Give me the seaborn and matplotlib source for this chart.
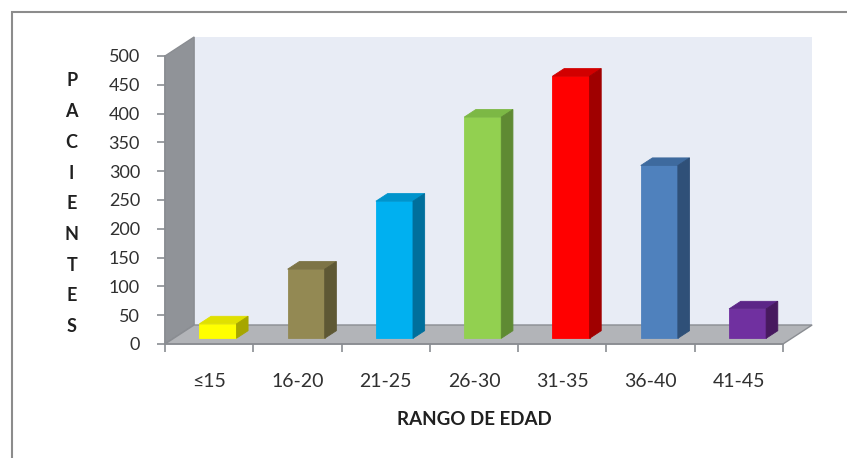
import matplotlib
matplotlib.use('Agg')
import matplotlib.pyplot as plt
import pandas as pd
import seaborn as sns
from matplotlib.patches import Polygon, Rectangle


# age ranges and patient counts
AGE_RANGES = ['≤15', '16-20', '21-25', '26-30', '31-35', '36-40', '41-45']
PATIENTS = [25, 120, 238, 384, 455, 300, 51]

# front / top / side shades for each bar
FRONT = ['#ffff00', '#938953', '#00b0f0', '#92d050', '#ff0000', '#4f81bd', '#7030a0']
TOP = ['#e0e000', '#7d7446', '#0094cc', '#7cb845', '#d20000', '#3e6a9e', '#5c2687']
SIDE = ['#a6a600', '#5e5834', '#006f9c', '#5f8a33', '#a00000', '#2f5078', '#47195f']

# depth of the 3d box in data units (x categories, y patients)
DX = 0.33
DY = 33


def main():
    sns.set_theme(style='white')
    plt.rcParams['font.family'] = ['Lato', 'DejaVu Sans']

    df = pd.DataFrame({'Edad': AGE_RANGES, 'Pacientes': PATIENTS})

    fig = plt.figure(figsize=(8.47, 4.58), dpi=100)
    ax = fig.add_axes([165 / 847, 114 / 458, 618 / 847, 288 / 458])
    ax.set_facecolor('none')

    sns.barplot(
        data=df, x='Edad', y='Pacientes', hue='Edad',
        palette=FRONT, width=0.42, legend=False, ax=ax,
        saturation=1, zorder=3
    )
    bars = list(ax.patches)
    ax.set_xlim(-0.5, len(AGE_RANGES) - 0.5)
    ax.set_ylim(0, 500)
    x0, x1 = ax.get_xlim()

    # walls and floor
    wall = Rectangle((x0 + DX, DY), x1 - x0, 500, facecolor='#e8ecf5',
                     edgecolor='none', zorder=0.1, clip_on=False)
    side = Polygon([(x0, 0), (x0, 500), (x0 + DX, 500 + DY), (x0 + DX, DY)],
                   closed=True, facecolor='#909398', edgecolor='#8a8d92',
                   zorder=0.2, clip_on=False)
    floor = Polygon([(x0, 0), (x1, 0), (x1 + DX, DY), (x0 + DX, DY)],
                    closed=True, facecolor='#b2b4b8', edgecolor='#8a8d92',
                    lw=1, zorder=0.3, clip_on=False)
    for p in (wall, side, floor):
        ax.add_patch(p)

    # turn flat bars into boxes
    bdx, bdy = 0.4 * DX, 0.4 * DY
    for i, bar in enumerate(bars):
        bar.set_x(bar.get_x() + 0.3 * DX)
        bar.set_y(0.3 * DY)
        bar.set_edgecolor(FRONT[i])
        bar.set_linewidth(0.6)
        left = bar.get_x()
        right = left + bar.get_width()
        base = bar.get_y()
        top = base + bar.get_height()
        ax.add_patch(Polygon(
            [(left, top), (right, top), (right + bdx, top + bdy), (left + bdx, top + bdy)],
            closed=True, facecolor=TOP[i], edgecolor=TOP[i], lw=0.6,
            zorder=3, clip_on=False))
        ax.add_patch(Polygon(
            [(right, base), (right, top), (right + bdx, top + bdy), (right + bdx, base + bdy)],
            closed=True, facecolor=SIDE[i], edgecolor=SIDE[i], lw=0.6,
            zorder=3, clip_on=False))

    for s in ('top', 'right'):
        ax.spines[s].set_visible(False)
    for s in ('left', 'bottom'):
        ax.spines[s].set_color('#8a8d92')
        ax.spines[s].set_linewidth(1.2)

    ax.set_yticks(range(0, 501, 50))
    ax.tick_params(axis='y', left=True, length=6, width=1.2, color='#8a8d92',
                   labelsize=13, labelcolor='#303030', pad=12)
    ax.set_xticks(range(len(AGE_RANGES)))
    ax.set_xticklabels(AGE_RANGES)
    ax.set_xticks([i - 0.5 for i in range(len(AGE_RANGES) + 1)], minor=True)
    ax.tick_params(axis='x', which='major', length=0, labelsize=14,
                   labelcolor='#303030', pad=21)
    ax.tick_params(axis='x', which='minor', bottom=True, length=6, width=1.2,
                   color='#8a8d92')

    ax.set_xlabel('RANGO DE EDAD', fontsize=13.5, fontweight='bold',
                  color='#202020', labelpad=15)
    ax.set_ylabel('P\nA\nC\nI\nE\nN\nT\nE\nS', rotation=0, fontsize=13,
                  fontweight='bold', color='#202020', linespacing=1.98,
                  va='center', ha='center')
    ax.yaxis.set_label_coords(-0.151, 0.487)

    # outer frame of the chart area
    fig.patches.append(Rectangle((12 / 847, -0.1), 1.0, (458 - 12) / 458 + 0.1,
                                 transform=fig.transFigure, fill=False,
                                 edgecolor='#8c8c8c', lw=1.5))

    fig.savefig('out.png', dpi=100)


if __name__ == '__main__':
    main()
